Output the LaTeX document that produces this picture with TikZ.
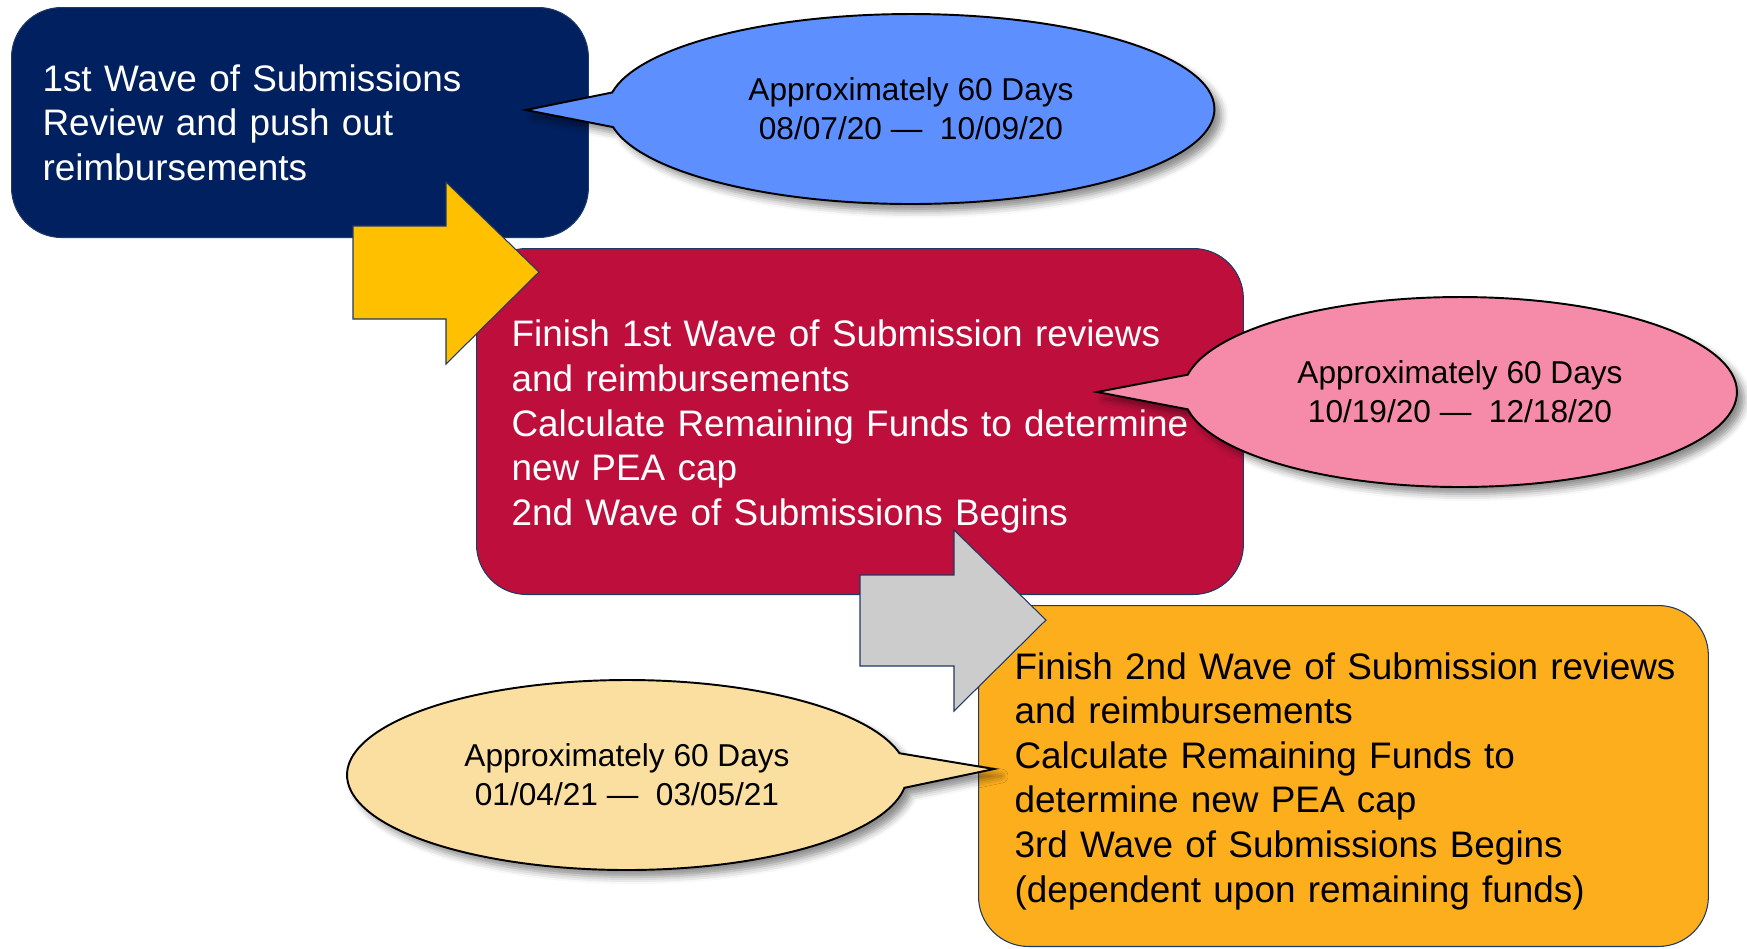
\documentclass[tikz,border=0pt]{standalone}
\usepackage{fontspec}
\setmainfont{Liberation Sans}
\usetikzlibrary{shapes.callouts,shadows.blur}

\definecolor{navybox}{HTML}{002060}
\definecolor{crimsonbox}{HTML}{BE0F3C}
\definecolor{orangebox}{HTML}{FCAE1C}
\definecolor{edgeblue}{HTML}{1F3864}
\definecolor{bluecall}{HTML}{5E8FFF}
\definecolor{pinkcall}{HTML}{F58BA8}
\definecolor{wheatcall}{HTML}{FBDFA0}
\definecolor{yellowarrow}{HTML}{FFC000}
\definecolor{grayarrow}{HTML}{CCCCCC}

\tikzset{
  wavebox/.style={draw=edgeblue, line width=0.6pt, rounded corners=1cm,
    anchor=north west, align=left, inner ysep=0pt,
    font=\fontsize{21}{25.4}\selectfont},
  datecall/.style={ellipse callout, draw=black, line width=1.1pt,
    callout pointer arc=21, minimum height=3.8cm, align=center,
    font=\fontsize{18}{22}\selectfont,
    blur shadow={shadow xshift=4pt, shadow yshift=-4pt,
      shadow blur radius=4pt, shadow opacity=45}},
  blockarrow/.style={draw=edgeblue, line width=0.6pt, line join=miter}
}
% taller first line pushes the text block a little down
\newcommand{\toprule}{\rule{0pt}{21pt}}

\begin{document}
\begin{tikzpicture}[x=0.02cm, y=-0.02cm]
  \useasboundingbox (0,0) rectangle (1747,948);

  % first wave
  \node[wavebox, fill=navybox, text=white, minimum width=11.54cm,
    minimum height=4.6cm, text width=10.3cm, inner xsep=0.62cm]
    (wave1) at (11,7)
    {1st Wave of Submissions\\Review and push out\\reimbursements};
  \node[datecall, fill=bluecall, minimum width=12.14cm,
    callout absolute pointer={(526,110)}] (days1) at (911,109)
    {Approximately 60 Days\\08/07/20 — \ 10/09/20};

  % second wave
  \node[wavebox, fill=crimsonbox, text=white, minimum width=15.34cm,
    minimum height=6.92cm, text width=13.94cm, inner xsep=0.7cm]
    (wave2) at (476,248)
    {\toprule\mbox{Finish 1st Wave of Submission reviews}\\and reimbursements\\
     \mbox{Calculate Remaining Funds to determine}\\new PEA cap\\
     2nd Wave of Submissions Begins};
  \draw[blockarrow, fill=yellowarrow] (353,226) -- (446,226) -- (446,182)
    -- (539,272) -- (446,364) -- (446,319) -- (353,319) -- cycle;
  \node[datecall, fill=pinkcall, minimum width=11.08cm,
    callout absolute pointer={(1097,392)}] (days2) at (1460,392)
    {Approximately 60 Days\\10/19/20 — \ 12/18/20};

  % third wave
  \node[wavebox, fill=orangebox, text=black, minimum width=14.6cm,
    minimum height=6.82cm, text width=13.16cm, inner xsep=0.72cm]
    (wave3) at (978,605)
    {\toprule\mbox{Finish 2nd Wave of Submission reviews}\\and reimbursements\\
     Calculate Remaining Funds to\\determine new PEA cap\\
     3rd Wave of Submissions Begins\\(dependent upon remaining funds)};
  \draw[blockarrow, fill=grayarrow] (860,575) -- (954,575) -- (954,530)
    -- (1046,620) -- (954,711) -- (954,666) -- (860,666) -- cycle;
  \node[datecall, fill=wheatcall, minimum width=11.2cm,
    callout absolute pointer={(994,769)}] (days3) at (627,775)
    {Approximately 60 Days\\01/04/21 — \ 03/05/21};
\end{tikzpicture}
\end{document}
